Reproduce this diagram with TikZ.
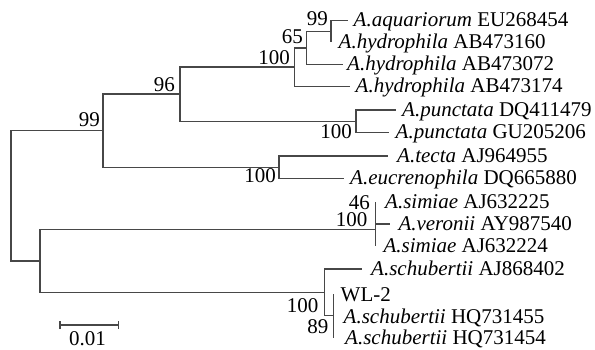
\documentclass[tikz,border=0pt]{standalone}
\usepackage{fontspec}
\setmainfont{Liberation Serif}
\usetikzlibrary{arrows.meta}
\begin{document}
\begin{tikzpicture}[x=1pt,y=-1pt,
  branch/.style={draw=black!72,line width=1.4pt},
  leaf/.style={anchor=base west,inner sep=0pt,font=\fontsize{21}{24}\selectfont},
  boot/.style={anchor=base east,inner sep=0pt,font=\fontsize{21}{24}\selectfont},
  scalelbl/.style={anchor=base,inner sep=0pt,font=\fontsize{21}{24}\selectfont}]
\useasboundingbox (0,0) rectangle (595,350);
% internal nodes
\coordinate (root) at (11,195.8);
\coordinate (nA) at (103,130.7);
\coordinate (nB) at (180,94.2);
\coordinate (nC) at (294.3,67.2);
\coordinate (nD) at (306.7,47.9);
\coordinate (nE) at (331,31.25);
\coordinate (nF) at (356,121.25);
\coordinate (nG) at (279,167.25);
\coordinate (nH) at (40,261);
\coordinate (nI) at (375.7,229.5);
\coordinate (nJ) at (375.7,213);
\coordinate (nK) at (324.3,292.4);
\coordinate (nL) at (333.3,315.75);
% leaf tips
\coordinate (l1) at (347.5,20.5);
\coordinate (l2) at (331,42);
\coordinate (l3) at (343,64.5);
\coordinate (l4) at (350,86.5);
\coordinate (l5) at (396,110);
\coordinate (l6) at (389,132.5);
\coordinate (l7) at (388.3,156);
\coordinate (l8) at (343.5,178.5);
\coordinate (l9) at (375.7,202);
\coordinate (l10) at (390,224);
\coordinate (l11) at (375.7,246);
\coordinate (l12) at (362,269);
\coordinate (l13) at (333.3,294);
\coordinate (l14) at (333.3,316);
\coordinate (l15) at (333.3,337.5);
% branches
\draw[branch] (root) |- (nA);
\draw[branch] (root) |- (nH);
\draw[branch] (nA) |- (nB);
\draw[branch] (nA) |- (nG);
\draw[branch] (nB) |- (nC);
\draw[branch] (nB) |- (nF);
\draw[branch] (nC) |- (nD);
\draw[branch] (nC) |- (l4);
\draw[branch] (nD) |- (nE);
\draw[branch] (nD) |- (l3);
\draw[branch] (nE) |- (l1);
\draw[branch] (nE) |- (l2);
\draw[branch] (nF) |- (l5);
\draw[branch] (nF) |- (l6);
\draw[branch] (nG) |- (l7);
\draw[branch] (nG) |- (l8);
\draw[branch] (nH) |- (nI);
\draw[branch] (nH) |- (nK);
\draw[branch] (nI) |- (nJ);
\draw[branch] (nI) |- (l11);
\draw[branch] (nJ) |- (l9);
\draw[branch] (nJ) |- (l10);
\draw[branch] (nK) |- (l12);
\draw[branch] (nK) |- (nL);
\draw[branch] (nL) |- (l13);
\draw[branch] (nL) |- (l14);
\draw[branch] (nL) |- (l15);
% leaf labels
\node[leaf] (t1) at (353.5,27) {\textit{A.aquariorum} EU268454};
\node[leaf] (t2) at (338.5,48.5) {\textit{A.hydrophila} AB473160};
\node[leaf] (t3) at (347,71) {\textit{A.hydrophila} AB473072};
\node[leaf] (t4) at (355.5,93) {\textit{A.hydrophila} AB473174};
\node[leaf] (t5) at (402,116.5) {\textit{A.punctata} DQ411479};
\node[leaf] (t6) at (395.5,139) {\textit{A.punctata} GU205206};
\node[leaf] (t7) at (397,162.5) {\textit{A.tecta} AJ964955};
\node[leaf] (t8) at (350,185) {\textit{A.eucrenophila} DQ665880};
\node[leaf] (t9) at (385,209) {\textit{A.simiae} AJ632225};
\node[leaf] (t10) at (398.3,230.5) {\textit{A.veronii} AY987540};
\node[leaf] (t11) at (383.3,253) {\textit{A.simiae} AJ632224};
\node[leaf] (t12) at (371,275.5) {\textit{A.schubertii} AJ868402};
\node[leaf] (t13) at (340.5,301) {WL-2};
\node[leaf] (t14) at (343.5,323) {\textit{A.schubertii} HQ731455};
\node[leaf] (t15) at (345,344.5) {\textit{A.schubertii} HQ731454};
% bootstrap values
\node[boot] (bE) at (328,26) {99};
\node[boot] (bD) at (303,44) {65};
\node[boot] (bC) at (290,65) {100};
\node[boot] (bB) at (175,92) {96};
\node[boot] (bA) at (100,127) {99};
\node[boot] (bF) at (352,138.5) {100};
\node[boot] (bG) at (276,182.5) {100};
\node[boot] (bJ) at (370,210) {46};
\node[boot] (bI) at (367.5,227) {100};
\node[boot] (bK) at (318.5,312) {100};
\node[boot] (bL) at (328.5,333) {89};
% scale bar
\coordinate (s1) at (59.3,325);
\coordinate (s2) at (119.3,325);
\draw[branch,{Bar[width=8pt]}-{Bar[width=8pt]}] (s1) -- (s2);
\node[scalelbl] (sl) at (87.5,345) {0.01};
\end{tikzpicture}
\end{document}
